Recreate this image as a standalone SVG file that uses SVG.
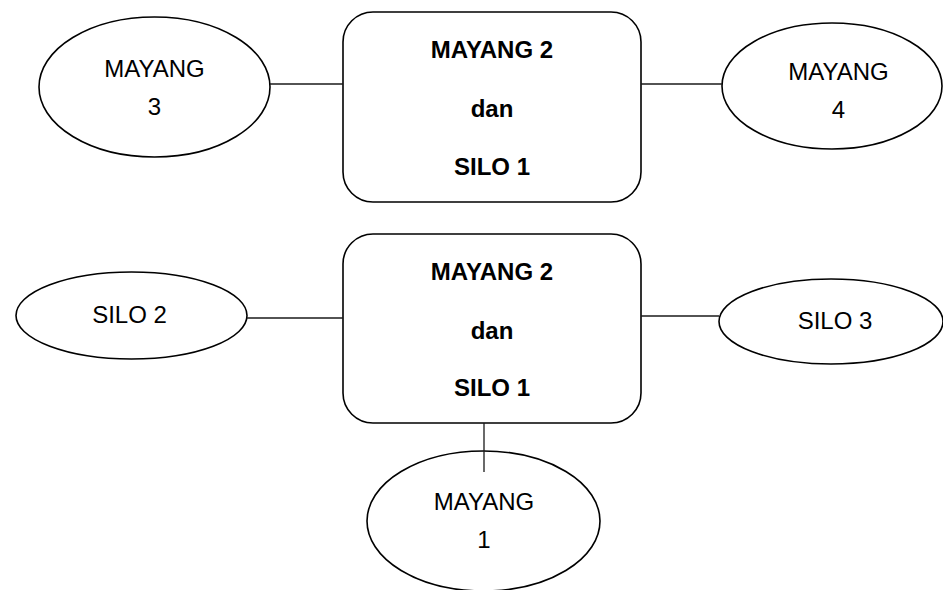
<svg xmlns="http://www.w3.org/2000/svg" width="943" height="590" viewBox="0 0 943 590">
<style>
.shape{fill:#fff;stroke:#000;stroke-width:1.6}
.conn line{stroke:#1a1a1a;stroke-width:1.3}
text{font-family:"Liberation Sans",Arial,sans-serif;font-size:24px;fill:#000;text-anchor:middle}
.b{font-weight:bold}
</style>
<rect width="943" height="590" fill="#fff"/>
<g id="box-top">
<rect class="shape" x="343" y="12" width="298" height="190" rx="30" ry="30"/>
<text class="b" x="492" y="58">MAYANG 2</text>
<text class="b" x="492" y="117">dan</text>
<text class="b" x="492" y="175">SILO 1</text>
</g>
<g id="box-bottom">
<rect class="shape" x="343" y="234" width="298" height="189" rx="30" ry="30"/>
<text class="b" x="492" y="280">MAYANG 2</text>
<text class="b" x="492" y="339">dan</text>
<text class="b" x="492" y="396">SILO 1</text>
</g>
<g id="mayang3">
<ellipse class="shape" cx="154.5" cy="87" rx="115.5" ry="70"/>
<text x="154.5" y="77">MAYANG</text>
<text x="154.5" y="115">3</text>
</g>
<g id="mayang4">
<ellipse class="shape" cx="832" cy="86" rx="110" ry="63"/>
<text x="838.5" y="80">MAYANG</text>
<text x="838.5" y="118">4</text>
</g>
<g id="silo2">
<ellipse class="shape" cx="131.5" cy="315.5" rx="115.5" ry="43.5"/>
<text x="129.5" y="323">SILO 2</text>
</g>
<g id="silo3">
<ellipse class="shape" cx="831" cy="321.5" rx="112" ry="42.5"/>
<text x="835" y="329">SILO 3</text>
</g>
<g id="mayang1">
<ellipse class="shape" cx="483.5" cy="521" rx="116.5" ry="70"/>
<text x="484" y="510">MAYANG</text>
<text x="484" y="548">1</text>
</g>
<g id="connectors" class="conn">
<line x1="270" y1="84" x2="343" y2="84"/>
<line x1="641" y1="84" x2="722" y2="84"/>
<line x1="247" y1="318" x2="343" y2="318"/>
<line x1="641" y1="316" x2="719" y2="316"/>
<line x1="484" y1="423" x2="484" y2="472"/>
</g>
</svg>
